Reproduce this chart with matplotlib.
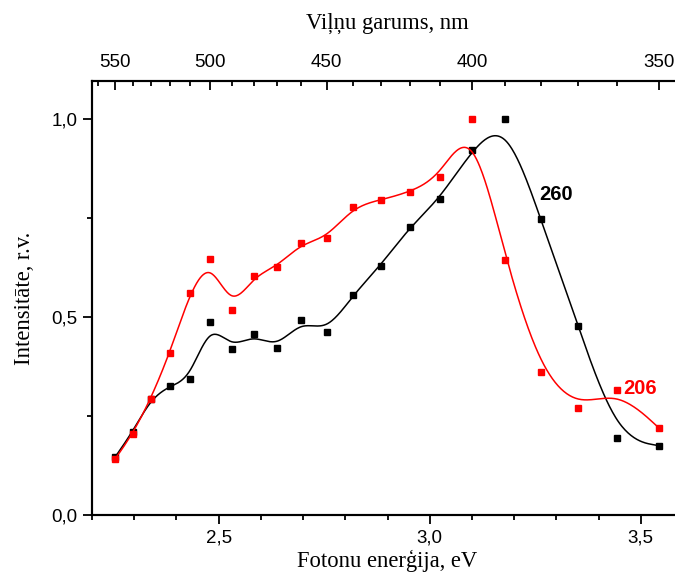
import numpy as np
import matplotlib.pyplot as plt
from matplotlib.ticker import MultipleLocator, FixedLocator, NullFormatter

# viļņu garumi, nm (punkti ik pa 10 nm)
wavelength = np.arange(550, 340, -10)
energy = 1240.0 / wavelength

# intensitāte, r.v.
y_260 = [0.146, 0.210, 0.294, 0.326, 0.343, 0.488, 0.420, 0.457, 0.421, 0.493, 0.461,
         0.556, 0.630, 0.727, 0.799, 0.923, 1.000, 0.747, 0.478, 0.194, 0.175]
y_206 = [0.141, 0.205, 0.294, 0.410, 0.561, 0.647, 0.518, 0.604, 0.627, 0.686, 0.699,
         0.778, 0.796, 0.815, 0.854, 1.000, 0.644, 0.361, 0.270, 0.316, 0.220]

top_major = [550, 500, 450, 400, 350]
top_minor = list(range(560, 340, -10))


def bspline(px, py, n=40):
    # kubiskais B-splains, punkti kā kontrolpunkti (kā Origin "B-Spline")
    P = np.column_stack([px, py])
    P = np.vstack([P[0], P[0], P, P[-1], P[-1]])
    t = np.linspace(0, 1, n)
    b0 = (1 - t) ** 3 / 6
    b1 = (3 * t**3 - 6 * t**2 + 4) / 6
    b2 = (-3 * t**3 + 3 * t**2 + 3 * t + 1) / 6
    b3 = t**3 / 6
    out = []
    for i in range(len(P) - 3):
        seg = (np.outer(b0, P[i]) + np.outer(b1, P[i + 1])
               + np.outer(b2, P[i + 2]) + np.outer(b3, P[i + 3]))
        out.append(seg)
    out = np.vstack(out)
    return out[:, 0], out[:, 1]


fig = plt.figure(figsize=(6.75, 5.74), dpi=100)
ax = fig.add_axes([92 / 675, 59 / 574, 591 / 675, 434 / 574])

for yv, col in [(y_260, "black"), (y_206, "#ff0000")]:
    sx, sy = bspline(energy, yv)
    ax.plot(sx, sy, color=col, lw=1.1)
    ax.plot(energy, yv, ls="none", marker="s", ms=5, color=col, mec=col)

ax.set_xlim(2.2, 3.6)
ax.set_ylim(0, 1.096)

ax.xaxis.set_major_locator(MultipleLocator(0.5))
ax.xaxis.set_minor_locator(MultipleLocator(0.1))
ax.yaxis.set_major_locator(MultipleLocator(0.5))
ax.yaxis.set_minor_locator(MultipleLocator(0.25))
ax.xaxis.set_major_formatter(lambda v, p: f"{v:.1f}".replace(".", ","))
ax.yaxis.set_major_formatter(lambda v, p: f"{v:.1f}".replace(".", ","))

tick_font = "Liberation Sans"
lab_font = "Liberation Serif"

ax.tick_params(which="both", direction="out", width=1.3, top=False, right=False,
               labelsize=13.5, labelfontfamily=tick_font)
ax.tick_params(which="major", length=6.5, pad=4)
ax.tick_params(which="minor", length=3.3)
for s in ["left", "bottom", "top", "right"]:
    ax.spines[s].set_linewidth(1.5)

ax.set_xlabel("Fotonu enerģija, eV", fontsize=16.3, family=lab_font, labelpad=2.5)
ax.set_ylabel("Intensitāte, r.v.", fontsize=16.3, family=lab_font, labelpad=12)

# augšējā ass: viļņa garums
ax2 = ax.twiny()
ax2.set_xlim(ax.get_xlim())
ax2.xaxis.set_major_locator(FixedLocator([1240.0 / w for w in top_major]))
ax2.xaxis.set_minor_locator(FixedLocator([1240.0 / w for w in top_minor]))
ax2.set_xticklabels([str(w) for w in top_major])
ax2.xaxis.set_minor_formatter(NullFormatter())
ax2.tick_params(which="both", direction="in", width=1.3,
                labelsize=13.5, labelfontfamily=tick_font)
ax2.tick_params(which="major", length=6.5, pad=7)
ax2.tick_params(which="minor", length=3.3)
for s in ["left", "bottom", "top", "right"]:
    ax2.spines[s].set_linewidth(1.5)
ax2.set_xlabel("Viļņu garums, nm", fontsize=16.3, family=lab_font, labelpad=18)

ax.text(3.259, 0.795, "260", fontsize=14.5, fontweight="bold", family=tick_font,
        color="black", ha="left", va="baseline")
ax.text(3.458, 0.306, "206", fontsize=14.5, fontweight="bold", family=tick_font,
        color="#ff0000", ha="left", va="baseline")

fig.savefig("out.png", dpi=100)
